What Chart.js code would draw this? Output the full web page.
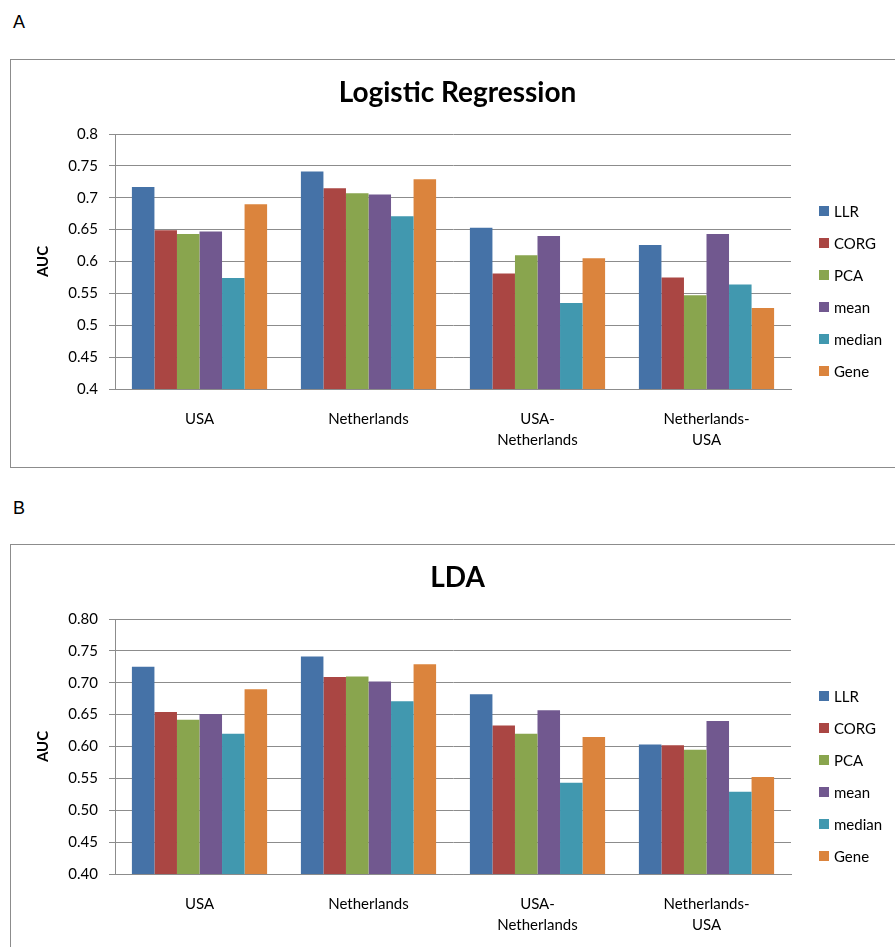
<!DOCTYPE html>
<html>
<head>
<meta charset="utf-8">
<script src="https://cdn.jsdelivr.net/npm/chart.js@4.4.1/dist/chart.umd.min.js"></script>
<style>
  html, body { margin: 0; padding: 0; background: #fff; }
  body { width: 895px; height: 947px; overflow: hidden; position: relative; }
  .tag { position: absolute; left: 13px; font: 18px "Liberation Sans", Arial, sans-serif; color: #000; }
  .box { position: absolute; left: 10px; width: 895px; height: 409px; border: 1px solid #8c8c8c; box-sizing: border-box; background: #fff; }
  .box canvas { position: absolute; left: 0; top: 0; }
</style>
</head>
<body>
<div class="tag" style="top:12px">A</div>
<div class="box" style="top:59px"><canvas id="chartA" width="893" height="407"></canvas></div>
<div class="tag" style="top:498px">B</div>
<div class="box" style="top:544px"><canvas id="chartB" width="893" height="407"></canvas></div>
<script>
// Cohorts (train-test settings) on the x axis
const categories = ['USA', 'Netherlands', ['USA-', 'Netherlands'], ['Netherlands-', 'USA']];
const methods = ['LLR', 'CORG', 'PCA', 'mean', 'median', 'Gene'];
const methodColors = ['#4572A7', '#AA4643', '#89A54E', '#71588F', '#4198AF', '#DB843D'];

// AUC per method, logistic regression classifier
const lrLLR    = [0.717, 0.741, 0.653, 0.626];
const lrCORG   = [0.649, 0.715, 0.581, 0.575];
const lrPCA    = [0.643, 0.707, 0.610, 0.547];
const lrMean   = [0.647, 0.705, 0.640, 0.643];
const lrMedian = [0.574, 0.671, 0.535, 0.564];
const lrGene   = [0.690, 0.729, 0.605, 0.527];

// AUC per method, LDA classifier
const ldaLLR    = [0.725, 0.741, 0.682, 0.603];
const ldaCORG   = [0.654, 0.709, 0.633, 0.602];
const ldaPCA    = [0.642, 0.710, 0.620, 0.595];
const ldaMean   = [0.651, 0.702, 0.657, 0.640];
const ldaMedian = [0.620, 0.671, 0.543, 0.529];
const ldaGene   = [0.690, 0.729, 0.615, 0.552];

const yTicksA = ['0.4', '0.45', '0.5', '0.55', '0.6', '0.65', '0.7', '0.75', '0.8'];
const yTicksB = ['0.40', '0.45', '0.50', '0.55', '0.60', '0.65', '0.70', '0.75', '0.80'];

const FONT = 'Lato, "Open Sans", sans-serif';
const GRID = '#8c8c8c';

// Legend drawn as a column to the right of the plot
const sideLegend = {
  id: 'sideLegend',
  afterDraw(chart) {
    const ctx = chart.ctx;
    ctx.save();
    ctx.font = '15px ' + FONT;
    ctx.textBaseline = 'middle';
    ctx.textAlign = 'left';
    chart.data.datasets.forEach((ds, i) => {
      const cy = 151 + i * 32;
      ctx.fillStyle = ds.backgroundColor;
      ctx.fillRect(808, cy - 5, 10, 10);
      ctx.fillStyle = '#000';
      ctx.fillText(ds.label, 823, cy + 1);
    });
    ctx.restore();
  }
};

function makeChart(id, titleText, series, tickLabels) {
  new Chart(document.getElementById(id), {
    type: 'bar',
    data: {
      labels: categories,
      datasets: methods.map((m, i) => ({
        label: m,
        data: series[i],
        backgroundColor: methodColors[i],
        borderWidth: 0,
        categoryPercentage: 0.8,
        barPercentage: 1.0
      }))
    },
    options: {
      responsive: false,
      animation: false,
      layout: { padding: 0 },
      plugins: {
        legend: { display: false },
        tooltip: { enabled: false },
        title: {
          display: true,
          text: titleText,
          color: '#000',
          font: { family: FONT, size: 28, weight: 'bold', lineHeight: 1.2 },
          padding: { top: 16, bottom: 24.4 }
        }
      },
      scales: {
        x: {
          grid: { display: false },
          border: { display: true, color: GRID, width: 1 },
          ticks: {
            color: '#000',
            font: { family: FONT, size: 15, lineHeight: 1.37 },
            padding: 12,
            maxRotation: 0,
            autoSkip: false
          },
          afterFit(scale) { scale.height = 78; }
        },
        y: {
          min: 0.4,
          max: 0.8,
          grid: { color: GRID, lineWidth: 1, tickLength: 6, drawTicks: true },
          border: { display: true, color: GRID, width: 1 },
          ticks: {
            stepSize: 0.05,
            color: '#000',
            font: { family: FONT, size: 15 },
            padding: 11,
            callback: (v, i) => tickLabels[i]
          },
          title: {
            display: true,
            text: 'AUC',
            color: '#000',
            font: { family: FONT, size: 15, weight: 'bold', lineHeight: 1.2 },
            padding: { top: 23, bottom: 0 }
          },
          afterFit(scale) { scale.width = 104; }
        },
        // empty right-hand band that holds the legend column
        legendSpace: {
          position: 'right',
          type: 'linear',
          grid: { display: false },
          border: { display: false },
          ticks: { display: false },
          afterFit(scale) { scale.width = 113; }
        }
      }
    },
    plugins: [sideLegend]
  });
}

makeChart('chartA', 'Logistic Regression', [lrLLR, lrCORG, lrPCA, lrMean, lrMedian, lrGene], yTicksA);
makeChart('chartB', 'LDA', [ldaLLR, ldaCORG, ldaPCA, ldaMean, ldaMedian, ldaGene], yTicksB);
</script>
</body>
</html>
